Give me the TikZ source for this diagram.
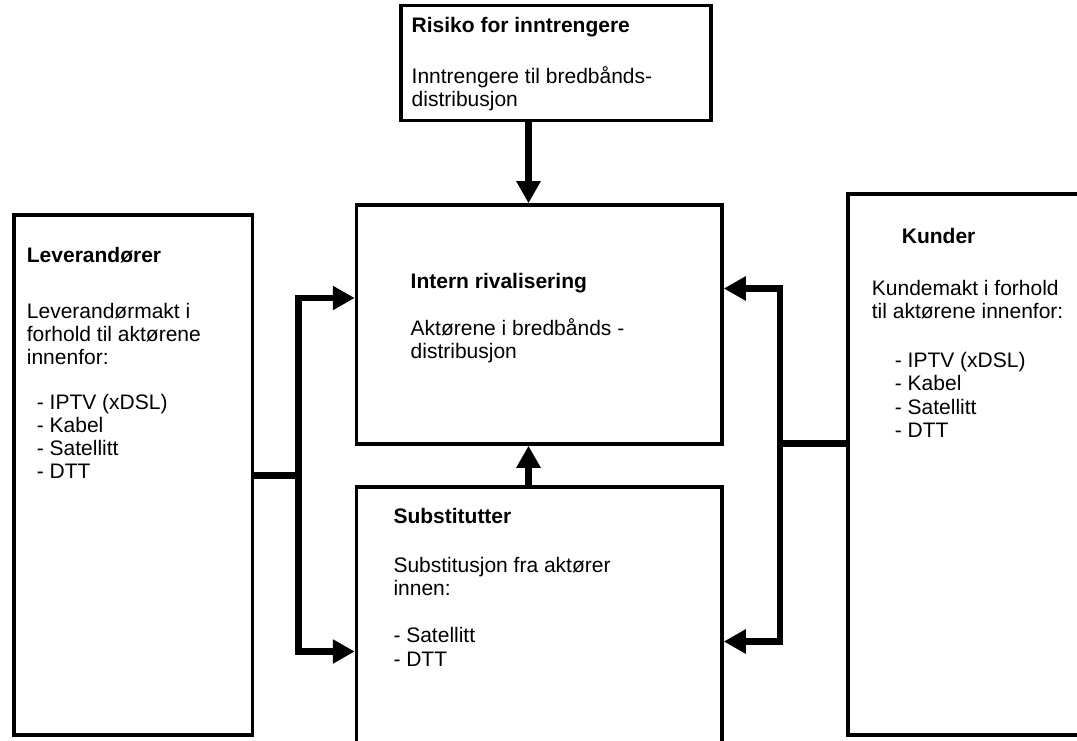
\documentclass[tikz,border=0pt]{standalone}
\usepackage{fontspec}
\setmainfont{Liberation Sans}
\usetikzlibrary{arrows.meta}

\begin{document}
\begin{tikzpicture}[x=1pt, y=-1pt,
  box/.style={draw, line width=3.5pt, inner sep=0pt, anchor=north west},
  txt/.style={anchor=north west, inner sep=0pt, align=left, font=\fontsize{21}{23.3}\selectfont},
  branch/.style={line width=6.5pt},
  flow/.style={branch, -{Triangle[length=22pt, width=23pt]}}]
  \useasboundingbox (0,0) rectangle (1077,741);
  % the five forces
  \node[box, minimum width=310pt, minimum height=115pt] (risk) at (399.25, 3.75) {};
  \node[box, minimum width=365.5pt, minimum height=239pt] (intern) at (354.75, 203.25) {};
  \node[box, minimum width=365.5pt, minimum height=300pt] (subst) at (354.75, 485.25) {};
  \node[box, minimum width=238.5pt, minimum height=520pt] (supp) at (12.25, 213.25) {};
  \node[box, minimum width=260pt, minimum height=541pt] (cust) at (846.25, 192.25) {};

  \node[txt] (risktxt) at (411.5, 16.7)
    {\textbf{Risiko for inntrengere}\\[27.7pt]Inntrengere til bredbånds-\\distribusjon};
  \node[txt] (interntxt) at (410.5, 272.7)
    {\textbf{Intern rivalisering}\\[23.7pt]Aktørene i bredbånds -\\distribusjon};
  \node[txt] (substtxt) at (393.3, 507.7)
    {\textbf{Substitutter}\\[25.7pt]Substitusjon fra aktører\\innen:\\[24pt]- Satellitt\\- DTT};
  \node[txt] (supptxt) at (26.7, 246.7)
    {\textbf{Leverandører}\\[32.7pt]Leverandørmakt i\\forhold til aktørene\\innenfor:\\[21pt]
     \hspace*{10pt}- IPTV (xDSL)\\\hspace*{10pt}- Kabel\\\hspace*{10pt}- Satellitt\\\hspace*{10pt}- DTT};
  \node[txt] (custtxt) at (871.7, 227.7)
    {\hspace*{30pt}\textbf{Kunder}\\[28.7pt]Kundemakt i forhold\\til aktørene innenfor:\\[25.7pt]
     \hspace*{23pt}- IPTV (xDSL)\\\hspace*{23pt}- Kabel\\\hspace*{23pt}- Satellitt\\\hspace*{23pt}- DTT};

  % arrows into the centre
  \coordinate (midx) at (528.5, 0);
  \draw[flow] (risk.south -| midx) -- (intern.north -| midx);
  \draw[flow] (subst.north -| midx) -- (intern.south -| midx);

  \coordinate (lsplit) at (298.5, 475.5);
  \draw[branch] (supp.east |- lsplit) -- (lsplit);
  \draw[flow] (lsplit) |- (intern.west |- 0,298);
  \draw[flow] (lsplit) |- (subst.west |- 0,651.5);

  \coordinate (rsplit) at (780, 443.5);
  \draw[branch] (cust.west |- rsplit) -- (rsplit);
  \draw[flow] (rsplit) |- (intern.east |- 0,288.5);
  \draw[flow] (rsplit) |- (subst.east |- 0,641.5);
\end{tikzpicture}
\end{document}
